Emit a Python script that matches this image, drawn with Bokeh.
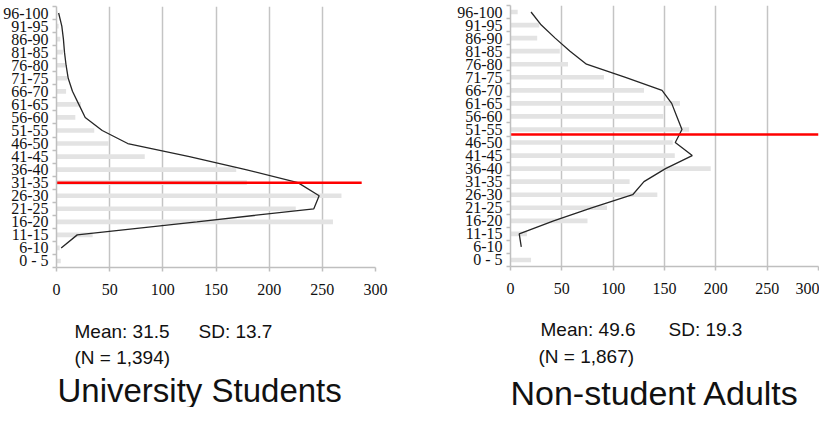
import math
from bokeh.plotting import figure
from bokeh.layouts import row, column
from bokeh.models import Range1d, FixedTicker, Label
from bokeh.embed import file_html
from bokeh.resources import INLINE

# ---------------- data ----------------
categories = ["0 - 5", "6-10", "11-15", "16-20", "21-25", "26-30", "31-35", "36-40",
              "41-45", "46-50", "51-55", "56-60", "61-65", "66-70", "71-75", "76-80",
              "81-85", "86-90", "91-95", "96-100"]
x_ticks = [0, 50, 100, 150, 200, 250, 300]

students_bars = [4, 3, 34, 260, 225, 268, 179, 169, 83, 49, 35.5, 17.7, 23, 9, 10, 8.3, 6, 3.6, 2, 1]
students_line = [math.nan, 4.4, 19.5, 132, 242, 247, 227, 178, 125, 67, 43, 27, 21, 15, 11, 9, 7.5, 6.5, 5, 2]
students_mean = 31.5
students_sd = 13.7
students_n = "1,394"
students_title = "University Students"

adults_bars = [20, 0, 16, 75, 94, 143, 116, 195, 160, 158, 174, 149, 165, 130, 91, 56, 48, 26, 28, 7]
adults_line = [math.nan, 10.5, 8.5, 42, 79, 119, 130, 151, 177, 160.5, 167, 162, 157, 147.6, 112, 74, 58, 43.5, 30, 20]
adults_mean = 49.6
adults_sd = 19.3
adults_n = "1,867"
adults_title = "Non-student Adults"

BIN = 5
CHART_H = 303
TEXT_H = 104


def make_chart(bars, line, mean, red_len, border_left, frame_w, border_top, border_right):
    p = figure(output_backend="svg", toolbar_location=None, title=None,
               frame_width=frame_w, frame_height=261,
               min_border_left=border_left, min_border_right=border_right,
               min_border_top=border_top, min_border_bottom=CHART_H - 261 - border_top,
               x_range=Range1d(0, 300), y_range=Range1d(-0.5, len(categories) - 0.5))
    p.outline_line_color = None
    p.background_fill_color = "white"
    p.border_fill_color = "white"

    pos = list(range(len(categories)))
    p.hbar(y=pos, left=0, right=bars, height=0.36, fill_color="#e3e3e3", line_color=None)
    p.line(x=line, y=pos, line_color="#262626", line_width=1.3)

    mpos = (mean + 1) / BIN - 0.5
    p.line(x=[0, red_len], y=[mpos, mpos], line_color="#ff0000", line_width=2.6)

    # x axis
    xa = p.xaxis[0]
    xa.ticker = FixedTicker(ticks=x_ticks)
    xa.axis_line_color = "#bfbfbf"
    xa.axis_line_width = 1.5
    xa.major_tick_line_color = "#bfbfbf"
    xa.major_tick_line_width = 1.5
    xa.major_tick_out = 4
    xa.major_tick_in = 0
    xa.minor_tick_line_color = None
    xa.major_label_text_font = "Liberation Serif"
    xa.major_label_text_font_size = "16px"
    xa.major_label_text_color = "#111111"
    xa.major_label_standoff = 12

    # y axis
    ya = p.yaxis[0]
    ya.ticker = FixedTicker(ticks=pos, minor_ticks=[i - 0.5 for i in range(len(categories) + 1)])
    ya.major_label_overrides = {i: c for i, c in enumerate(categories)}
    ya.axis_line_color = "#bfbfbf"
    ya.axis_line_width = 1.5
    ya.major_tick_line_color = None
    ya.major_tick_out = 0
    ya.major_tick_in = 0
    ya.minor_tick_line_color = "#bfbfbf"
    ya.minor_tick_line_width = 1.5
    ya.minor_tick_out = 4
    ya.minor_tick_in = 0
    ya.major_label_text_font = "Liberation Serif"
    ya.major_label_text_font_size = "16px"
    ya.major_label_text_color = "#111111"
    ya.major_label_standoff = 4

    p.xgrid.ticker = FixedTicker(ticks=x_ticks[1:])
    p.xgrid.grid_line_color = "#c4c4c4"
    p.xgrid.grid_line_width = 1.5
    p.ygrid.grid_line_color = None
    return p


def make_text(border_left, frame_w, border_right, mean, sd, n, title, txt):
    t = figure(output_backend="svg", toolbar_location=None, title=None,
               frame_width=frame_w, frame_height=TEXT_H,
               min_border_left=border_left, min_border_right=border_right,
               min_border_top=0, min_border_bottom=0,
               x_range=Range1d(0, frame_w), y_range=Range1d(0, TEXT_H),
               x_axis_type=None, y_axis_type=None)
    t.outline_line_color = None
    t.grid.grid_line_color = None
    (mx, my), (sx, sy), (nx, ny), (tx, ty, tsize) = txt
    common = dict(x_units="screen", y_units="screen", text_font="Liberation Sans",
                  text_color="#111111", text_baseline="alphabetic")
    t.add_layout(Label(x=mx, y=my, text=f"Mean: {mean}", text_font_size="19px", **common))
    t.add_layout(Label(x=sx, y=sy, text=f"SD: {sd}", text_font_size="19px", **common))
    t.add_layout(Label(x=nx, y=ny, text=f"(N = {n})", text_font_size="19px", **common))
    t.add_layout(Label(x=tx, y=ty, text=title, text_font_size=tsize, **common))
    return t


left = make_chart(students_bars, students_line, students_mean, 287, 53, 319, 6, 78)
left_txt = make_text(53, 319, 78, students_mean, students_sd, students_n, students_title,
                     ((18, 76), (142, 76), (18, 50), (1, 17, "33px")))
right = make_chart(adults_bars, adults_line, adults_mean, 300, 57, 308, 5, 1)
right_txt = make_text(57, 308, 1, adults_mean, adults_sd, adults_n, adults_title,
                      ((30, 78), (158, 78), (28, 51), (0, 15, "34px")))

layout = row(column(left, left_txt, spacing=0), column(right, right_txt, spacing=0), spacing=0)
open("out.html", "w").write(file_html(layout, INLINE))
